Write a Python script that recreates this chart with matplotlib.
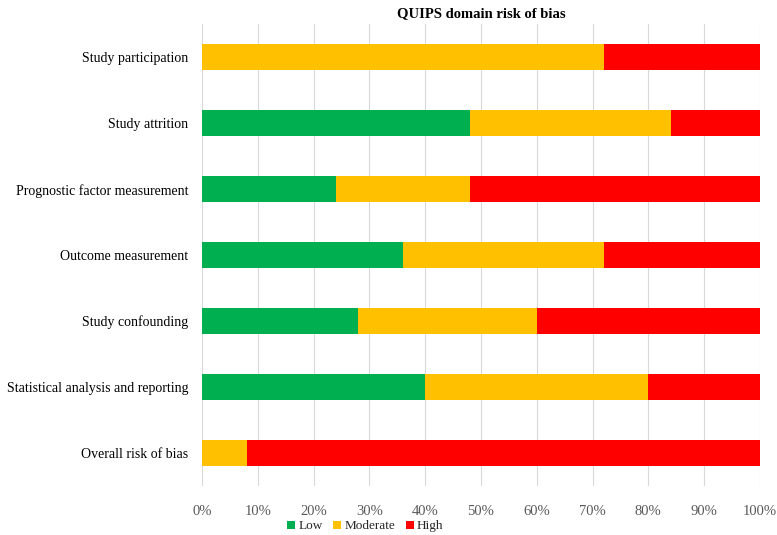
import matplotlib.pyplot as plt
import numpy as np

# 数据
categories = ['Study participation', 'Study attrition', 'Prognostic factor measurement',
              'Outcome measurement', 'Study confounding',
              'Statistical analysis and reporting', 'Overall risk of bias']
low = [0, 48, 24, 36, 28, 40, 0]
moderate = [72, 36, 24, 36, 32, 40, 8]
high = [28, 16, 52, 28, 40, 20, 92]
ticks = [0, 10, 20, 30, 40, 50, 60, 70, 80, 90, 100]

plt.rcParams['font.family'] = ['Liberation Serif', 'DejaVu Serif']

fig = plt.figure(figsize=(7.77, 5.35), dpi=100)
ax = fig.add_axes([0.26, 0.0916, 0.718, 0.863])

y = np.arange(len(categories))
low = np.array(low)
moderate = np.array(moderate)
high = np.array(high)

h = 0.4
ax.barh(y, low, height=h, color='#00B050', label='Low', zorder=3)
ax.barh(y, moderate, left=low, height=h, color='#FFC000', label='Moderate', zorder=3)
ax.barh(y, high, left=low + moderate, height=h, color='#FF0000', label='High', zorder=3)

ax.set_ylim(len(categories) - 0.5, -0.5)
ax.set_xlim(0, 100)
ax.set_yticks(y)
ax.set_yticklabels(categories, fontsize=10, color='#000000')
ax.set_xticks(ticks)
ax.set_xticklabels([f'{t}%' for t in ticks], fontsize=10.5, color='#595959')
ax.tick_params(axis='both', length=0)
ax.tick_params(axis='x', pad=14)
ax.tick_params(axis='y', pad=10)

ax.grid(axis='x', color='#D9D9D9', linewidth=0.8, zorder=0)
for s in ax.spines.values():
    s.set_visible(False)

ax.set_title('QUIPS domain risk of bias', fontsize=10.5, fontweight='bold', pad=5)

fig.legend(loc='center', bbox_to_anchor=(0.47, 0.016), ncol=3, frameon=False,
           fontsize=9.5, handlelength=0.6, handleheight=0.6, handletextpad=0.25,
           columnspacing=0.8, borderpad=0, labelcolor='#262626')

plt.savefig('out.png', dpi=100)
